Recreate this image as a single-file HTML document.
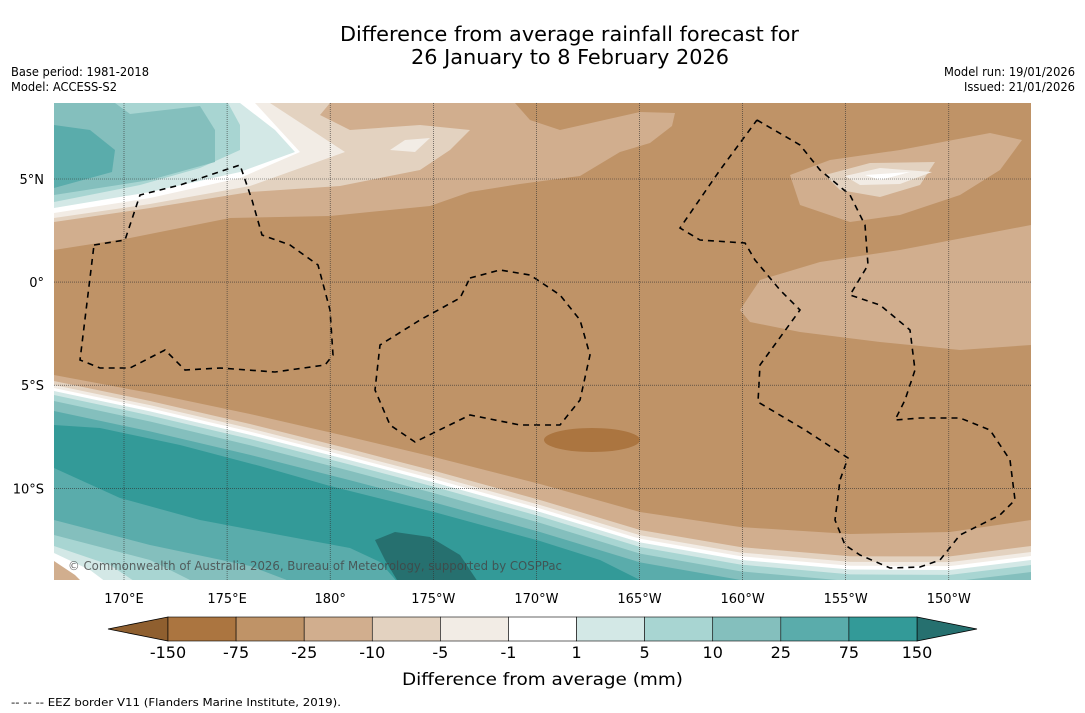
<!DOCTYPE html>
<html><head><meta charset="utf-8"><style>
body{margin:0;background:#fff;font-family:"DejaVu Sans","Liberation Sans",sans-serif;}
#wrap{position:relative;width:1085px;height:713px;overflow:hidden;}
</style></head><body><div id="wrap">
<svg id="svg" width="1085" height="713" xmlns="http://www.w3.org/2000/svg" font-family="DejaVu Sans, Liberation Sans, sans-serif">
<text x="340" y="41" font-size="20" textLength="459" lengthAdjust="spacingAndGlyphs">Difference from average rainfall forecast for</text>
<text x="411" y="64" font-size="20" textLength="318" lengthAdjust="spacingAndGlyphs">26 January to 8 February 2026</text>
<text x="11" y="76" font-size="12" textLength="138" lengthAdjust="spacingAndGlyphs">Base period: 1981-2018</text>
<text x="11" y="91" font-size="12" textLength="106" lengthAdjust="spacingAndGlyphs">Model: ACCESS-S2</text>
<text x="944" y="76" font-size="12" textLength="131" lengthAdjust="spacingAndGlyphs">Model run: 19/01/2026</text>
<text x="964" y="91" font-size="12" textLength="111" lengthAdjust="spacingAndGlyphs">Issued: 21/01/2026</text>
<defs><clipPath id="mc"><rect x="54" y="103" width="977" height="477"/></clipPath></defs>
<g id="map" clip-path="url(#mc)"></g>
<g id="axes"></g>
<g id="cbar"></g>
<text x="402" y="685" font-size="17" textLength="281" lengthAdjust="spacingAndGlyphs">Difference from average (mm)</text>
<text x="11" y="706" font-size="11" textLength="330" lengthAdjust="spacingAndGlyphs">--  --  -- EEZ border V11 (Flanders Marine Institute, 2019).</text>
</svg></div>
<script>
const cbLabels=["-150","-75","-25","-10","-5","-1","1","5","10","25","75","150"];
const cbColors=["#ab7540","#bf9367","#d1ae8e","#e3d2c0","#f2ece5","#ffffff","#d3e8e6","#a8d5d2","#84bfbd","#5aacab","#339a98"];
const lonLabels=["170°E","175°E","180°","175°W","170°W","165°W","160°W","155°W","150°W"];
const latLabels=["5°N","0°","5°S","10°S"];
const C={b150:"#ab7540",b75:"#bf9367",b25:"#d1ae8e",b10:"#e3d2c0",b5:"#f2ece5",w:"#ffffff",t1:"#d3e8e6",t5:"#a8d5d2",t10:"#84bfbd",t25:"#5aacab",t75:"#339a98",t150:"#26706f"};
const NS="http://www.w3.org/2000/svg";
const map=document.getElementById('map');
function mk(tag,at,par){const e=document.createElementNS(NS,tag);for(const k in at)e.setAttribute(k,at[k]);par.appendChild(e);return e;}
function poly(pts,fill,name){const e=mk('polygon',{points:pts.map(p=>p.join(',')).join(' '),fill:fill},map);

return e;}
const bg=mk('rect',{x:54,y:103,width:977,height:477,fill:C.b75},map);


poly([[54,250],[130,238],[230,218],[330,216],[430,206],[470,192],[520,184],[580,176],[620,152],[650,143],[672,126],[675,113],[640,112],[560,130],[530,120],[515,103],[54,103]],C.b25,'north-dry-region');
poly([[54,103],[330,103],[320,115],[350,130],[420,125],[470,130],[450,150],[420,170],[340,186],[250,192],[150,208],[54,222]],C.b10,'north-light-region');
poly([[390,150],[405,140],[430,138],[415,152]],C.b5,'small-spot');
poly([[54,103],[270,103],[345,152],[250,186],[150,204],[54,218]],C.b5,'nw-band-5');
poly([[54,103],[255,103],[300,152],[240,178],[150,198],[54,213]],C.w,'nw-band-white');
poly([[54,103],[240,103],[275,130],[295,152],[240,172],[150,192],[54,208]],C.t1,'nw-band-1');
poly([[54,103],[228,103],[240,125],[240,150],[200,168],[140,185],[54,202]],C.t5,'nw-band-5w');
poly([[54,103],[115,103],[130,114],[200,106],[215,130],[215,162],[150,180],[54,195]],C.t10,'nw-band-10');
poly([[54,125],[90,130],[115,150],[112,172],[54,188]],C.t25,'nw-band-25');
poly([[790,175],[830,160],[900,150],[990,133],[1022,140],[1000,170],[960,195],[900,215],[850,222],[800,205]],C.b25,'ne-region');
poly([[825,175],[870,163],[935,162],[920,185],[880,197],[840,190]],C.b10,'ne-region-10');
poly([[845,176],[880,168],[932,172],[900,184],[860,185]],C.b5,'ne-region-5');
poly([[865,175],[910,172],[880,180]],C.w,'ne-region-white');
poly([[740,310],[760,280],[820,262],[900,250],[1031,225],[1031,345],[960,350],[880,342],[800,332],[750,322]],C.b25,'east-region');
const dry=mk('ellipse',{cx:592,cy:440,rx:48,ry:12,fill:C.b150},map);


const B=[[54,375],[150,393],[250,414],[350,437],[434,457],[540,484],[640,512],[740,527],[850,534],[950,532],[1031,520]];
const bands=[[0,0,C.b25],[6,20,C.b10],[10,22,C.b5],[13,23,C.w],[16,24,C.t1],[20,25,C.t5],[26,26,C.t10],[36,24,C.t25]];
bands.forEach((b,i)=>{const pts=B.map(p=>{const k=(p[0]-54)/977;return [p[0],p[1]+b[0]+b[1]*k];});
pts.push([1031,600],[54,600]);poly(pts,b[2],'south-band-'+i);});
poly([[54,425],[100,428],[180,445],[260,466],[330,486],[434,512],[540,541],[600,560],[650,585],[54,585]],C.t75,'south-wet-region');
poly([[54,468],[120,498],[200,520],[280,535],[350,548],[380,562],[400,585],[54,585]],C.t25,'sw-band-25');
poly([[54,520],[150,545],[250,566],[300,585],[54,585]],C.t10,'sw-band-10');
poly([[54,535],[150,560],[200,585],[54,585]],C.t5,'sw-band-5');
poly([[54,546],[110,565],[140,585],[54,585]],C.t1,'sw-band-1');
poly([[54,553],[90,570],[110,585],[54,585]],C.w,'sw-band-white');
poly([[54,561],[75,575],[85,585],[54,585]],C.b25,'sw-band-dry');
poly([[375,540],[395,532],[430,537],[460,555],[480,585],[400,585],[385,560]],C.t150,'very-wet-patch');
const eez=[
[[94,245],[125,240],[140,195],[180,185],[240,165],[252,200],[262,235],[290,245],[318,265],[330,310],[333,355],[325,365],[275,372],[220,368],[185,370],[165,350],[130,368],[100,368],[80,360],[94,245]],
[[470,278],[500,270],[530,275],[560,295],[580,320],[590,355],[580,400],[560,425],[520,425],[470,415],[415,442],[390,425],[375,390],[380,345],[420,320],[460,298],[470,278]],
[[757,120],[800,145],[820,170],[850,195],[865,225],[868,265],[850,295],[880,305],[910,330],[915,370],[905,400],[895,420],[920,418],[960,418],[990,430],[1010,460],[1015,500],[1000,515],[960,535],[940,560],[920,567],[890,568],[860,555],[845,545],[835,520],[840,480],[848,458],[805,430],[758,402],[760,365],[800,310],[780,290],[755,260],[745,243],[700,240],[680,228],[720,170],[757,120]]];
eez.forEach((l,i)=>{const e=mk('polyline',{points:l.map(p=>p.join(',')).join(' '),fill:'none',stroke:'#000','stroke-width':1.6,'stroke-dasharray':'6,5'},map);

});
const ax=document.getElementById('axes');
const lonX=v=>124+v*103.1, latY=v=>179+v*103.1;
lonLabels.forEach((t,i)=>{const x=lonX(i);
const l=mk('line',{x1:x,y1:103,x2:x,y2:580,stroke:'#333','stroke-width':0.6,'stroke-dasharray':'1,1'},ax);


const tx=mk('text',{x:x,y:603,'font-size':13,'text-anchor':'middle'},ax);tx.textContent=t;

});
latLabels.forEach((t,i)=>{const y=latY(i);
const l=mk('line',{x1:54,y1:y,x2:1031,y2:y,stroke:'#333','stroke-width':0.6,'stroke-dasharray':'1,1'},ax);


const tx=mk('text',{x:44,y:y+5,'font-size':13,'text-anchor':'end'},ax);tx.textContent=t;

});
const cp=mk('text',{x:68,y:570,'font-size':12,fill:'#444','fill-opacity':0.8,textLength:494,lengthAdjust:'spacingAndGlyphs'},ax);cp.textContent='© Commonwealth of Australia 2026, Bureau of Meteorology, supported by COSPPac';


const cb=document.getElementById('cbar');const x0=168,x1=917,w=(x1-x0)/cbColors.length,y0=617,h=24;
const lt=mk('polygon',{points:`${x0},${y0} 108,${y0+h/2} ${x0},${y0+h}`,fill:'#8f5f2f',stroke:'#000','stroke-width':0.8},cb);


const rt=mk('polygon',{points:`${x1},${y0} 977,${y0+h/2} ${x1},${y0+h}`,fill:C.t150,stroke:'#000','stroke-width':0.8},cb);


cbColors.forEach((c,i)=>{const r=mk('rect',{x:x0+i*w,y:y0,width:w,height:h,fill:c,stroke:'#000','stroke-width':0.6},cb);

});
cbLabels.forEach((t,i)=>{const tx=mk('text',{x:x0+i*w,y:658,'font-size':16,'text-anchor':'middle'},cb);tx.textContent=t;

});
</script></body></html>
